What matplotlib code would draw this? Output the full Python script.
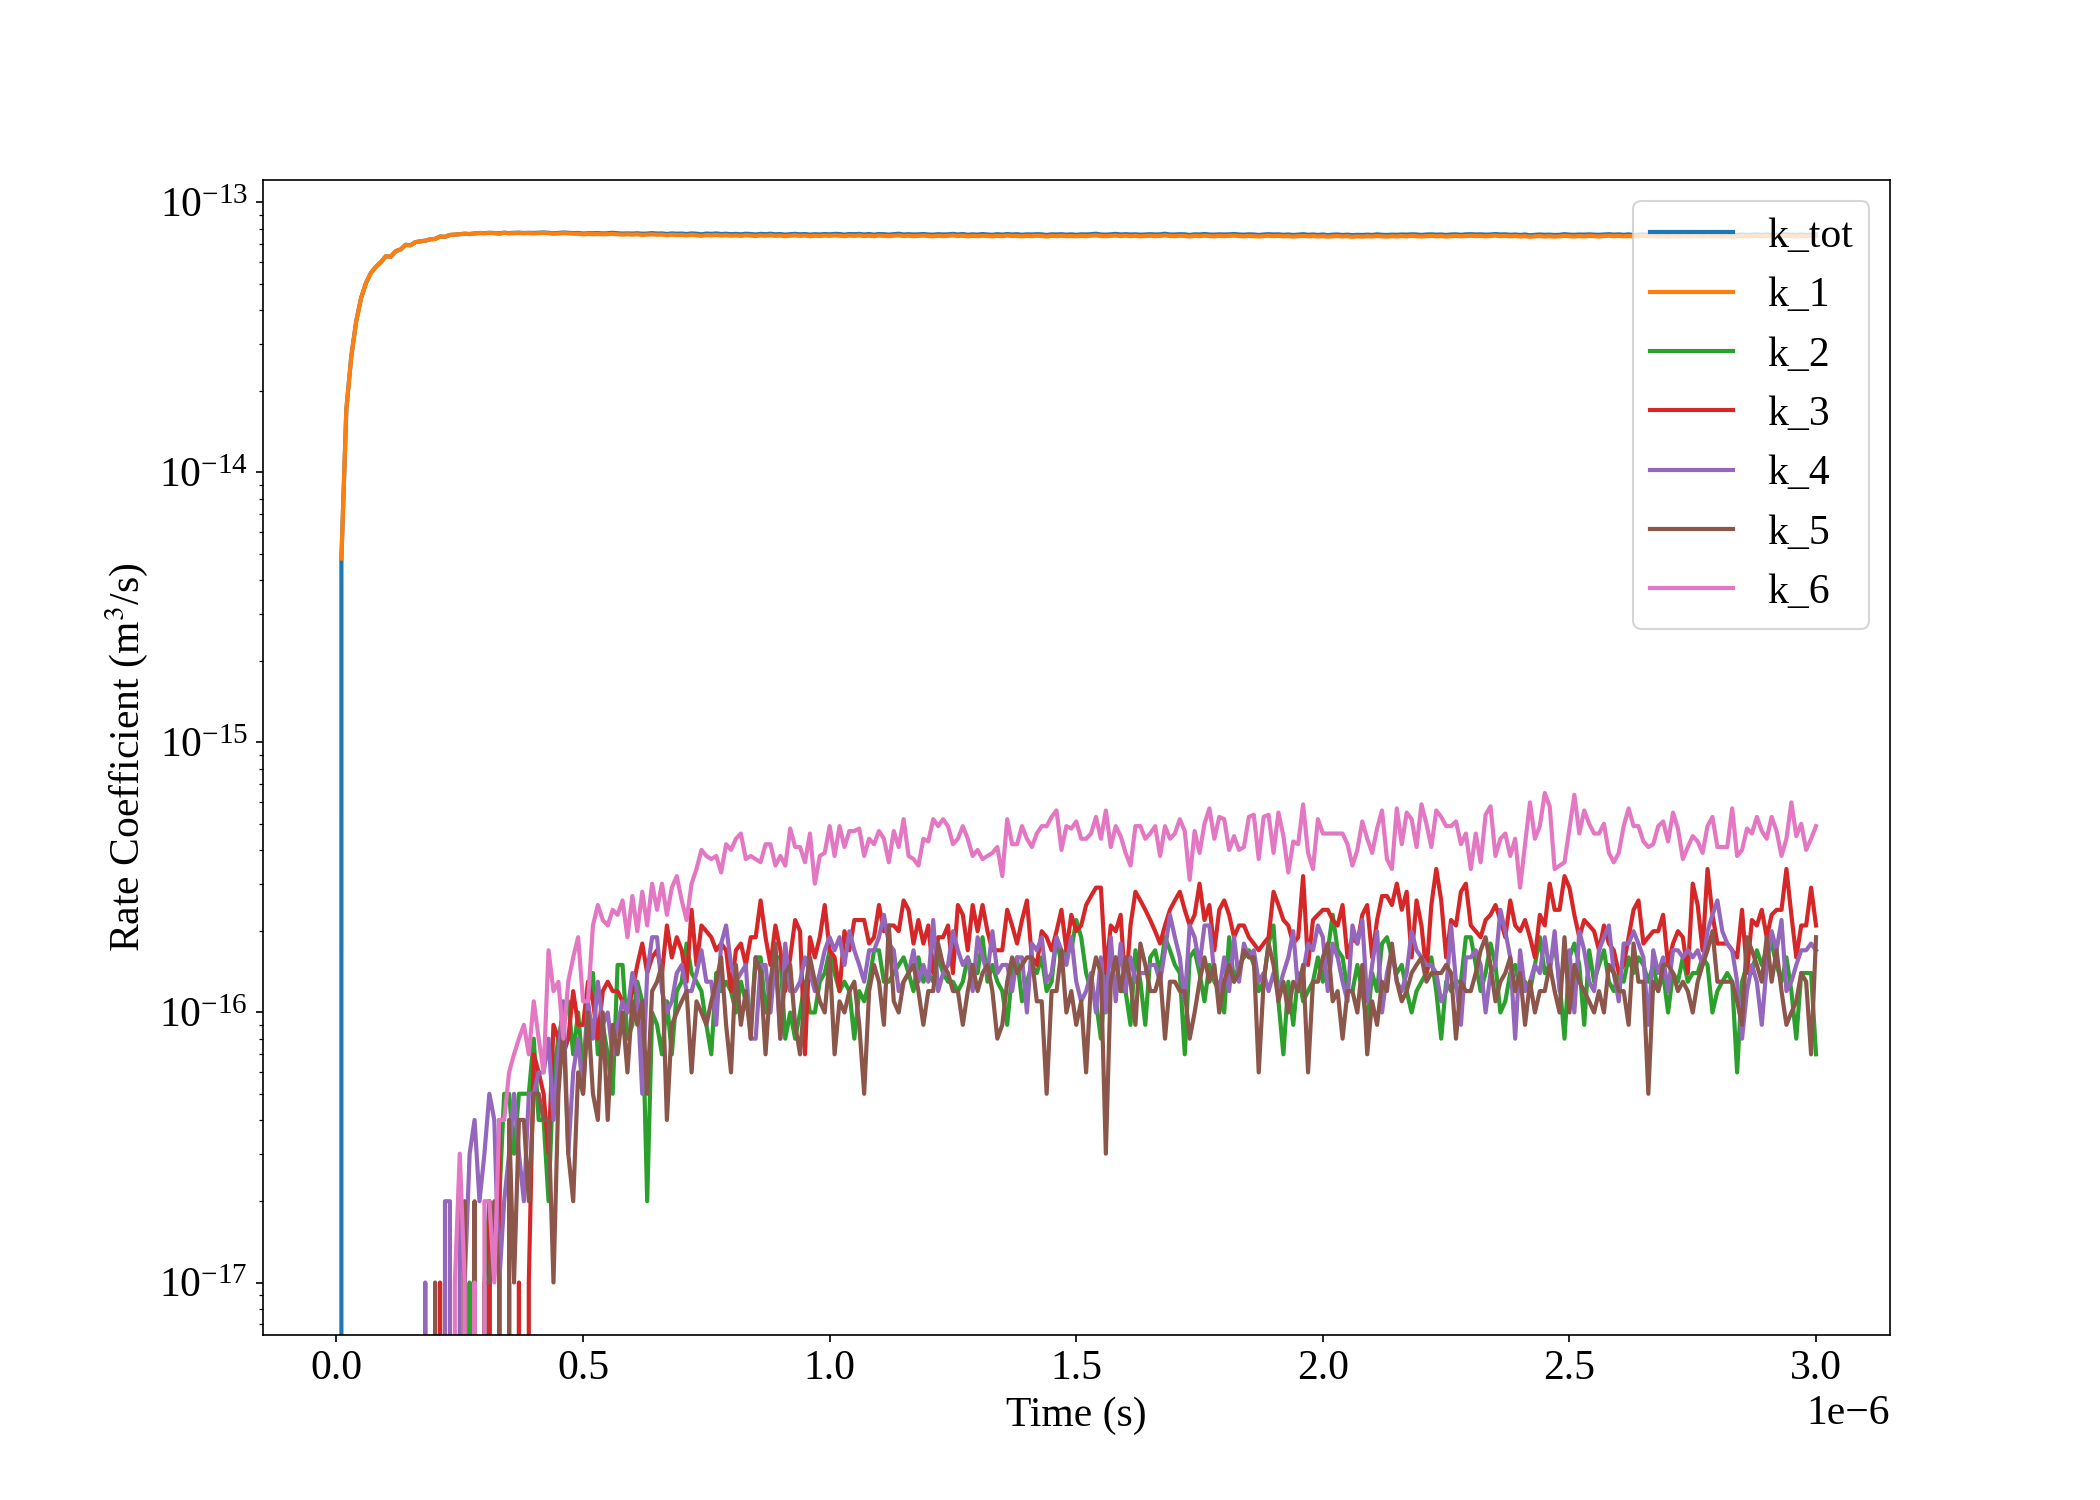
#! /usr/bin/env python3

# Imports
import matplotlib
matplotlib.use("Agg")
import matplotlib.pyplot as plt
import numpy as np


# Configuration
plt.rcParams["font.family"] = ["Liberation Serif", "DejaVu Serif"]
plt.rcParams["font.size"] = 20
plt.rcParams["mathtext.fontset"] = "stix"
plt.rcParams["lines.linewidth"] = 2

# Time grid, 301 samples from 0 to 3 us
time = np.linspace(0, 3e-6, 301)

# k_tot and k_1 in units of 1e-14 m^3/s
k_tot = [
    0.00, 0.48, 1.71, 2.69, 3.63, 4.43, 5.04, 5.49, 5.78, 6.01,
    6.32, 6.30, 6.60, 6.70, 6.97, 6.94, 7.13, 7.18, 7.22, 7.30,
    7.33, 7.48, 7.46, 7.58, 7.60, 7.63, 7.66, 7.64, 7.68, 7.71,
    7.70, 7.72, 7.71, 7.68, 7.73, 7.70, 7.72, 7.73, 7.71, 7.72,
    7.71, 7.73, 7.74, 7.72, 7.69, 7.71, 7.74, 7.72, 7.70, 7.71,
    7.67, 7.69, 7.69, 7.70, 7.68, 7.69, 7.72, 7.69, 7.67, 7.68,
    7.67, 7.69, 7.66, 7.67, 7.70, 7.67, 7.68, 7.64, 7.68, 7.66,
    7.67, 7.64, 7.68, 7.66, 7.62, 7.67, 7.65, 7.68, 7.64, 7.66,
    7.63, 7.65, 7.62, 7.66, 7.64, 7.61, 7.65, 7.63, 7.66, 7.62,
    7.64, 7.60, 7.63, 7.65, 7.62, 7.64, 7.60, 7.63, 7.61, 7.64,
    7.62, 7.65, 7.64, 7.60, 7.64, 7.63, 7.65, 7.61, 7.64, 7.60,
    7.64, 7.63, 7.60, 7.63, 7.66, 7.61, 7.63, 7.61, 7.62, 7.64,
    7.61, 7.60, 7.63, 7.61, 7.62, 7.65, 7.61, 7.64, 7.59, 7.62,
    7.60, 7.64, 7.61, 7.59, 7.63, 7.60, 7.64, 7.61, 7.63, 7.59,
    7.62, 7.61, 7.63, 7.62, 7.58, 7.62, 7.61, 7.63, 7.60, 7.62,
    7.59, 7.62, 7.61, 7.63, 7.66, 7.61, 7.60, 7.62, 7.65, 7.61,
    7.63, 7.61, 7.62, 7.60, 7.61, 7.63, 7.61, 7.62, 7.66, 7.61,
    7.61, 7.63, 7.62, 7.58, 7.62, 7.61, 7.64, 7.61, 7.60, 7.62,
    7.61, 7.62, 7.64, 7.61, 7.60, 7.62, 7.61, 7.58, 7.61, 7.63,
    7.61, 7.62, 7.59, 7.61, 7.58, 7.60, 7.63, 7.59, 7.61, 7.58,
    7.61, 7.57, 7.60, 7.61, 7.58, 7.60, 7.57, 7.59, 7.58, 7.60,
    7.58, 7.62, 7.59, 7.58, 7.60, 7.59, 7.61, 7.60, 7.62, 7.61,
    7.58, 7.61, 7.62, 7.60, 7.61, 7.58, 7.61, 7.62, 7.59, 7.62,
    7.63, 7.61, 7.62, 7.60, 7.61, 7.64, 7.61, 7.62, 7.59, 7.61,
    7.58, 7.61, 7.56, 7.59, 7.61, 7.59, 7.60, 7.58, 7.59, 7.63,
    7.60, 7.59, 7.61, 7.60, 7.62, 7.60, 7.59, 7.61, 7.63, 7.60,
    7.62, 7.59, 7.62, 7.58, 7.60, 7.62, 7.59, 7.61, 7.59, 7.60,
    7.58, 7.60, 7.58, 7.61, 7.59, 7.63, 7.60, 7.58, 7.62, 7.59,
    7.62, 7.58, 7.60, 7.57, 7.59, 7.61, 7.58, 7.60, 7.62, 7.59,
    7.61, 7.58, 7.60, 7.59, 7.62, 7.60, 7.58, 7.61, 7.59, 7.60,
    7.61,
]

k_1 = [
    np.nan, 0.48, 1.71, 2.69, 3.63, 4.43, 5.04, 5.49, 5.78, 6.01,
    6.32, 6.30, 6.60, 6.70, 6.97, 6.94, 7.13, 7.18, 7.22, 7.30,
    7.33, 7.48, 7.46, 7.58, 7.60, 7.63, 7.66, 7.64, 7.68, 7.70,
    7.69, 7.71, 7.70, 7.66, 7.72, 7.68, 7.70, 7.71, 7.69, 7.70,
    7.68, 7.70, 7.71, 7.69, 7.66, 7.67, 7.70, 7.68, 7.66, 7.66,
    7.62, 7.64, 7.63, 7.64, 7.62, 7.63, 7.65, 7.62, 7.60, 7.62,
    7.60, 7.62, 7.58, 7.60, 7.62, 7.59, 7.60, 7.56, 7.60, 7.57,
    7.58, 7.55, 7.59, 7.56, 7.52, 7.57, 7.55, 7.58, 7.54, 7.56,
    7.53, 7.55, 7.52, 7.56, 7.54, 7.51, 7.55, 7.53, 7.56, 7.52,
    7.54, 7.50, 7.53, 7.55, 7.52, 7.54, 7.50, 7.53, 7.51, 7.54,
    7.52, 7.55, 7.53, 7.50, 7.54, 7.52, 7.55, 7.51, 7.53, 7.50,
    7.54, 7.52, 7.50, 7.53, 7.55, 7.51, 7.53, 7.50, 7.52, 7.54,
    7.51, 7.49, 7.53, 7.50, 7.52, 7.55, 7.51, 7.53, 7.49, 7.52,
    7.50, 7.53, 7.51, 7.49, 7.52, 7.50, 7.54, 7.51, 7.52, 7.49,
    7.52, 7.50, 7.53, 7.51, 7.48, 7.52, 7.50, 7.53, 7.50, 7.51,
    7.49, 7.52, 7.50, 7.53, 7.55, 7.51, 7.50, 7.52, 7.54, 7.51,
    7.53, 7.50, 7.52, 7.49, 7.51, 7.53, 7.50, 7.52, 7.55, 7.51,
    7.50, 7.53, 7.51, 7.48, 7.52, 7.50, 7.53, 7.51, 7.49, 7.52,
    7.50, 7.52, 7.54, 7.51, 7.49, 7.52, 7.50, 7.48, 7.51, 7.53,
    7.50, 7.52, 7.49, 7.51, 7.47, 7.50, 7.52, 7.49, 7.51, 7.48,
    7.50, 7.47, 7.49, 7.51, 7.48, 7.50, 7.46, 7.49, 7.47, 7.50,
    7.48, 7.51, 7.49, 7.47, 7.50, 7.48, 7.51, 7.49, 7.52, 7.50,
    7.48, 7.50, 7.52, 7.49, 7.51, 7.48, 7.50, 7.52, 7.49, 7.51,
    7.53, 7.50, 7.52, 7.49, 7.51, 7.54, 7.50, 7.52, 7.49, 7.51,
    7.48, 7.50, 7.46, 7.49, 7.51, 7.48, 7.50, 7.47, 7.49, 7.52,
    7.50, 7.48, 7.51, 7.49, 7.52, 7.50, 7.48, 7.51, 7.53, 7.50,
    7.52, 7.49, 7.51, 7.48, 7.50, 7.52, 7.49, 7.51, 7.48, 7.50,
    7.47, 7.50, 7.48, 7.51, 7.49, 7.52, 7.50, 7.48, 7.51, 7.49,
    7.51, 7.48, 7.50, 7.47, 7.49, 7.51, 7.48, 7.50, 7.52, 7.49,
    7.51, 7.48, 7.50, 7.49, 7.52, 7.50, 7.48, 7.51, 7.49, 7.50,
    7.51,
]

# k_2 ... k_6 in units of 1e-17 m^3/s
k_2 = [
    0, 0, 0, 0, 0, 0, 0, 0, 0, 0,
    0, 0, 0, 0, 0, 0, 0, 0, 0, 0,
    0, 0, 0, 0, 0, 0, 0, 1, 0, 0,
    1, 2, 0, 2, 5, 5, 3, 5, 5, 5,
    8, 4, 4, 2, 6, 8, 10, 11, 7, 10,
    6, 11, 14, 7, 9, 7, 5, 15, 15, 8,
    9, 13, 11, 2, 10, 9, 7, 11, 7, 12,
    13, 18, 14, 13, 12, 9, 7, 14, 12, 13,
    12, 10, 13, 11, 9, 16, 16, 10, 13, 16,
    16, 8, 10, 8, 10, 13, 10, 10, 13, 14,
    17, 14, 12, 13, 12, 8, 12, 11, 13, 17,
    17, 13, 13, 14, 15, 16, 14, 12, 16, 13,
    14, 13, 16, 14, 13, 13, 12, 13, 16, 14,
    14, 19, 13, 15, 13, 12, 9, 14, 16, 11,
    13, 15, 14, 16, 12, 13, 19, 15, 17, 17,
    22, 19, 14, 12, 11, 8, 14, 13, 16, 12,
    12, 9, 17, 13, 9, 16, 17, 14, 19, 17,
    15, 14, 7, 16, 17, 14, 11, 15, 13, 12,
    10, 19, 13, 15, 16, 17, 15, 12, 13, 18,
    21, 11, 7, 13, 9, 14, 11, 12, 13, 16,
    13, 17, 23, 17, 16, 12, 12, 15, 12, 9,
    14, 12, 18, 19, 16, 14, 15, 12, 10, 12,
    13, 14, 16, 12, 8, 13, 12, 13, 13, 19,
    19, 15, 12, 14, 18, 15, 10, 11, 14, 15,
    12, 13, 12, 15, 19, 14, 15, 18, 13, 8,
    16, 18, 15, 9, 17, 13, 15, 17, 13, 12,
    14, 13, 16, 14, 16, 15, 13, 15, 12, 14,
    10, 14, 13, 16, 13, 14, 14, 16, 15, 10,
    12, 13, 14, 13, 6, 13, 15, 14, 17, 15,
    17, 18, 15, 13, 16, 12, 8, 14, 14, 14,
    7,
]

k_3 = [
    0, 0, 0, 0, 0, 0, 0, 0, 0, 0,
    0, 0, 0, 0, 0, 0, 0, 0, 0, 0,
    0, 1, 0, 0, 0, 0, 0, 0, 0, 0,
    0, 2, 0, 4, 0, 1, 0, 1, 0, 1,
    7, 6, 5, 3, 9, 8, 7, 8, 12, 9,
    9, 13, 11, 8, 12, 13, 12, 12, 11, 10,
    12, 15, 18, 14, 16, 17, 14, 21, 16, 19,
    17, 13, 24, 15, 21, 20, 19, 17, 18, 17,
    12, 17, 18, 15, 19, 19, 26, 19, 15, 21,
    17, 12, 16, 22, 20, 7, 19, 16, 19, 25,
    17, 16, 12, 20, 17, 22, 22, 22, 18, 19,
    25, 20, 21, 21, 20, 26, 24, 18, 22, 18,
    21, 14, 19, 19, 21, 14, 25, 23, 17, 25,
    20, 25, 20, 17, 17, 17, 24, 21, 18, 22,
    26, 16, 15, 20, 19, 17, 20, 24, 17, 23,
    20, 21, 25, 27, 29, 29, 14, 21, 20, 23,
    12, 21, 28, 26, 24, 22, 20, 18, 21, 24,
    26, 28, 24, 21, 23, 30, 22, 25, 17, 24,
    26, 23, 19, 21, 21, 19, 18, 17, 18, 19,
    28, 25, 22, 21, 18, 19, 32, 15, 22, 23,
    24, 24, 22, 21, 25, 16, 19, 18, 23, 25,
    16, 22, 27, 27, 25, 30, 24, 28, 16, 26,
    21, 14, 25, 34, 26, 16, 22, 21, 28, 30,
    21, 20, 19, 22, 23, 25, 22, 19, 26, 21,
    20, 22, 19, 16, 23, 21, 30, 24, 24, 32,
    29, 23, 19, 22, 21, 20, 17, 21, 18, 17,
    14, 15, 19, 24, 26, 18, 19, 20, 20, 23,
    15, 18, 20, 19, 14, 30, 25, 17, 34, 23,
    18, 18, 18, 17, 16, 24, 14, 22, 21, 24,
    19, 23, 24, 24, 34, 23, 16, 21, 21, 29,
    21,
]

k_4 = [
    0, 0, 0, 0, 0, 0, 0, 0, 0, 0,
    0, 0, 0, 0, 0, 0, 0, 0, 1, 0,
    0, 0, 2, 2, 0, 2, 1, 3, 4, 2,
    3, 5, 4, 1, 2, 3, 5, 3, 2, 5,
    5, 6, 6, 8, 4, 7, 11, 3, 6, 8,
    5, 11, 8, 13, 9, 10, 7, 9, 11, 10,
    14, 12, 5, 14, 19, 19, 12, 10, 11, 14,
    15, 12, 12, 14, 17, 13, 13, 9, 18, 21,
    15, 13, 14, 15, 8, 8, 15, 15, 10, 16,
    8, 18, 12, 12, 13, 16, 14, 12, 14, 17,
    19, 17, 19, 15, 20, 17, 15, 13, 17, 17,
    19, 23, 18, 17, 12, 13, 14, 17, 13, 15,
    13, 22, 12, 14, 15, 20, 17, 15, 16, 12,
    19, 16, 14, 20, 14, 15, 15, 12, 16, 16,
    10, 18, 17, 19, 13, 14, 19, 17, 15, 19,
    13, 11, 12, 14, 10, 16, 10, 19, 11, 18,
    12, 16, 13, 14, 14, 15, 15, 13, 17, 23,
    19, 16, 11, 21, 19, 15, 21, 21, 14, 12,
    16, 12, 19, 13, 18, 16, 17, 13, 14, 12,
    14, 12, 14, 16, 20, 12, 14, 18, 17, 21,
    19, 12, 18, 16, 13, 11, 21, 18, 22, 11,
    15, 20, 10, 14, 17, 13, 12, 14, 20, 17,
    16, 15, 15, 14, 11, 12, 21, 13, 9, 16,
    16, 17, 15, 10, 14, 15, 24, 20, 16, 8,
    17, 12, 13, 15, 14, 19, 14, 20, 12, 16,
    17, 10, 20, 17, 13, 12, 17, 19, 21, 14,
    11, 18, 18, 20, 18, 16, 9, 17, 14, 16,
    12, 17, 17, 16, 17, 16, 17, 15, 20, 23,
    26, 20, 18, 17, 13, 8, 12, 15, 13, 9,
    15, 20, 17, 22, 12, 13, 15, 17, 17, 18,
    17,
]

k_5 = [
    0, 0, 0, 0, 0, 0, 0, 0, 0, 0,
    0, 0, 0, 0, 0, 0, 0, 0, 0, 0,
    1, 0, 0, 0, 0, 0, 2, 0, 2, 0,
    1, 1, 2, 1, 0, 4, 1, 4, 4, 2,
    5, 5, 4, 4, 1, 5, 9, 3, 2, 6,
    5, 10, 5, 4, 10, 4, 9, 7, 10, 6,
    11, 9, 11, 5, 12, 13, 15, 4, 9, 10,
    11, 12, 6, 11, 10, 9, 11, 13, 16, 9,
    6, 15, 9, 12, 8, 16, 14, 7, 13, 18,
    8, 14, 15, 9, 7, 12, 16, 13, 11, 10,
    16, 7, 11, 10, 12, 13, 9, 5, 12, 15,
    13, 9, 21, 11, 10, 13, 14, 15, 12, 9,
    12, 12, 18, 15, 14, 12, 12, 9, 12, 15,
    12, 14, 15, 12, 8, 9, 13, 16, 14, 15,
    16, 16, 11, 11, 5, 12, 12, 17, 10, 12,
    9, 11, 6, 13, 16, 14, 3, 13, 16, 12,
    16, 13, 9, 18, 15, 12, 12, 14, 8, 13,
    13, 12, 12, 8, 10, 13, 16, 13, 15, 10,
    13, 15, 13, 14, 17, 16, 16, 6, 13, 18,
    15, 11, 13, 10, 13, 12, 15, 6, 13, 13,
    16, 18, 11, 12, 8, 12, 12, 10, 15, 7,
    11, 9, 13, 12, 18, 13, 11, 12, 14, 15,
    16, 13, 14, 14, 14, 15, 14, 8, 13, 12,
    12, 14, 17, 19, 15, 11, 13, 14, 16, 12,
    14, 9, 13, 10, 12, 12, 15, 12, 10, 19,
    10, 15, 13, 12, 11, 10, 12, 10, 15, 14,
    12, 12, 9, 18, 13, 13, 5, 13, 12, 15,
    15, 14, 12, 13, 12, 10, 13, 15, 17, 20,
    13, 13, 13, 13, 11, 9, 19, 17, 15, 13,
    19, 13, 17, 12, 9, 10, 11, 14, 13, 7,
    19,
]

k_6 = [
    0, 0, 0, 0, 0, 0, 0, 0, 0, 0,
    0, 0, 0, 0, 0, 0, 0, 0, 0, 0,
    0, 0, 0, 0, 1, 3, 1, 0, 1, 0,
    2, 2, 1, 4, 4, 6, 7, 8, 9, 7,
    11, 8, 6, 17, 12, 13, 8, 13, 16, 19,
    11, 11, 21, 25, 22, 21, 24, 23, 26, 19,
    27, 20, 28, 21, 30, 24, 30, 23, 29, 32,
    26, 22, 30, 34, 40, 38, 37, 38, 33, 42,
    40, 44, 46, 37, 38, 37, 36, 42, 42, 35,
    38, 35, 48, 41, 41, 36, 46, 30, 38, 39,
    49, 38, 49, 41, 47, 47, 48, 38, 44, 42,
    47, 44, 36, 47, 41, 52, 38, 37, 35, 44,
    43, 52, 49, 52, 49, 42, 44, 49, 44, 38,
    40, 37, 38, 39, 41, 32, 52, 42, 42, 49,
    44, 41, 46, 49, 49, 53, 56, 40, 49, 48,
    51, 44, 44, 46, 53, 44, 56, 41, 49, 45,
    39, 35, 49, 49, 44, 46, 49, 38, 49, 44,
    46, 52, 47, 31, 47, 39, 50, 57, 44, 53,
    52, 40, 45, 40, 41, 53, 54, 37, 53, 54,
    39, 55, 45, 33, 43, 42, 59, 39, 34, 52,
    46, 46, 46, 46, 46, 42, 35, 40, 51, 44,
    39, 48, 56, 37, 34, 57, 42, 55, 52, 41,
    59, 50, 41, 56, 53, 49, 49, 51, 42, 46,
    34, 46, 36, 54, 58, 38, 44, 46, 38, 44,
    29, 42, 60, 44, 49, 65, 58, 34, 35, 36,
    48, 64, 46, 56, 50, 46, 46, 50, 39, 36,
    39, 49, 57, 49, 49, 43, 41, 42, 49, 51,
    43, 55, 48, 37, 41, 45, 43, 39, 49, 53,
    41, 41, 41, 57, 38, 40, 48, 46, 53, 47,
    44, 53, 47, 38, 44, 60, 45, 50, 40, 44,
    49,
]

labels = ["k_tot", "k_1", "k_2", "k_3", "k_4", "k_5", "k_6"]


# Code
series = [np.array(k_tot) * 1e-14, np.array(k_1) * 1e-14]
for counts in [k_2, k_3, k_4, k_5, k_6]:
    series.append(np.array(counts, dtype=float) * 1e-17)

fig, ax = plt.subplots(figsize=(14, 10), dpi=150)
for values, label in zip(series, labels):
    ax.plot(time, values, label=label)

ax.set_yscale("log")
ax.legend(loc="upper right")
ax.set_xlabel("Time (s)")
ax.set_ylabel("Rate Coefficient (m$^3$/s)")
fig.savefig("out.png", dpi=150)
